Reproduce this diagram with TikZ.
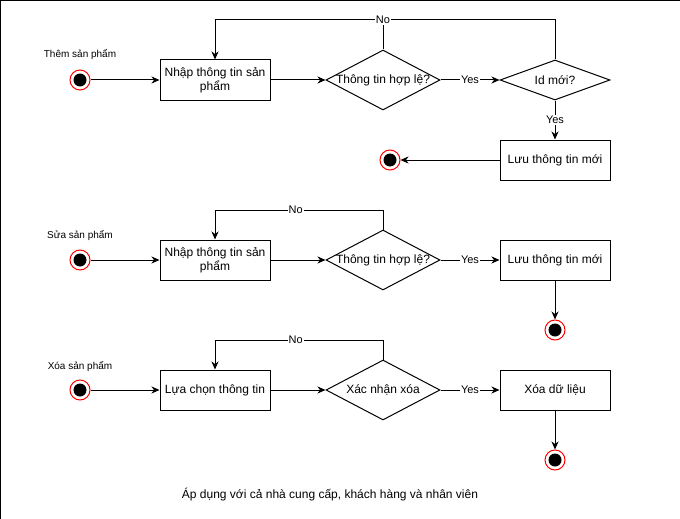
\documentclass[tikz,border=0pt]{standalone}
\usepackage{fontspec}
\setmainfont{Liberation Sans}
\usetikzlibrary{shapes.geometric,arrows.meta}
\begin{document}
\begin{tikzpicture}[x=1pt,y=-1pt,
  line width=1pt,
  main/.style={font=\fontsize{12}{14}\selectfont},
  box/.style={draw, main, minimum width=110pt, minimum height=40pt, align=center, inner sep=1pt},
  dia/.style={draw, diamond, minimum width=#1, inner sep=0pt},
  lbl/.style={font=\fontsize{10}{12}\selectfont},
  elbl/.style={fill=white, inner sep=1pt, font=\fontsize{11}{13}\selectfont},
  arr/.style={-{Stealth[length=8pt,width=7pt,inset=2.5pt]}},
  startc/.style={circle, draw=red, fill=white, minimum size=20pt, inner sep=0pt, path picture={\fill[black] (path picture bounding box.center) circle[radius=6.5pt];}},
]
\useasboundingbox (0,0) rectangle (680,519);
\draw (0,519) -- (0,0.5) -- (680,0.5);
% Row 1
\node[lbl] (l1) at (80,55) {Thêm sản phẩm};
\node[startc] (s1) at (80,80) {};
\node[box] (b1) at (215,80) {Nhập thông tin sản\\phẩm};
\node[dia=114pt, minimum height=60pt] (d1) at (383,80) {};
\node[main] (d1t) at (d1.center) {Thông tin hợp lệ?};
\node[dia=110pt, minimum height=40pt] (d2) at (555,80) {};
\node[main] (d2t) at (d2.center) {Id mới?};
\node[box] (b2) at (555,160) {Lưu thông tin mới};
\node[startc] (e1) at (390,160) {};
\coordinate (c1a) at (555,20);
\coordinate (c1b) at (215,20);
\draw[arr] (s1) -- (b1);
\draw[arr] (b1) -- (d1.west);
\draw[arr] (d1.east) -- node[elbl] (y1) {Yes} (d2.west);
\draw[arr] (d2.north) -- (c1a) -- (c1b) -- (b1.north);
\draw (d1.north) -- (383,20);
\node[elbl] (n1) at (383,20) {No};
\draw[arr] (d2.south) -- node[elbl] (y2) {Yes} (b2.north);
\draw[arr] (b2.west) -- (e1);
% Row 2
\node[lbl] (l2) at (80,236) {Sửa sản phẩm};
\node[startc] (s2) at (80,260) {};
\node[box] (b3) at (215,260) {Nhập thông tin sản\\phẩm};
\node[dia=114pt, minimum height=60pt] (d3) at (383,260) {};
\node[main] (d3t) at (d3.center) {Thông tin hợp lệ?};
\node[box] (b4) at (555,260) {Lưu thông tin mới};
\node[startc] (e2) at (555,330) {};
\coordinate (c2a) at (383,210);
\coordinate (c2b) at (215,210);
\draw[arr] (s2) -- (b3);
\draw[arr] (b3) -- (d3.west);
\draw[arr] (d3.east) -- node[elbl] (y3) {Yes} (b4.west);
\draw[arr] (d3.north) -- (c2a) -- node[elbl, pos=0.52] (n2) {No} (c2b) -- (b3.north);
\draw[arr] (b4.south) -- (e2);
% Row 3
\node[lbl] (l3) at (80,366) {Xóa sản phẩm};
\node[startc] (s3) at (80,390) {};
\node[box] (b5) at (215,390) {Lựa chọn thông tin};
\node[dia=114pt, minimum height=60pt] (d4) at (383,390) {};
\node[main] (d4t) at (d4.center) {Xác nhận xóa};
\node[box] (b6) at (555,390) {Xóa dữ liệu};
\node[startc] (e3) at (555,460) {};
\coordinate (c3a) at (383,340);
\coordinate (c3b) at (215,340);
\draw[arr] (s3) -- (b5);
\draw[arr] (b5) -- (d4.west);
\draw[arr] (d4.east) -- node[elbl] (y4) {Yes} (b6.west);
\draw[arr] (d4.north) -- (c3a) -- node[elbl, pos=0.52] (n3) {No} (c3b) -- (b5.north);
\draw[arr] (b6.south) -- (e3);
% footer
\node[main] (ft) at (330,495) {Áp dụng với cả nhà cung cấp, khách hàng và nhân viên};
\end{tikzpicture}
\end{document}
